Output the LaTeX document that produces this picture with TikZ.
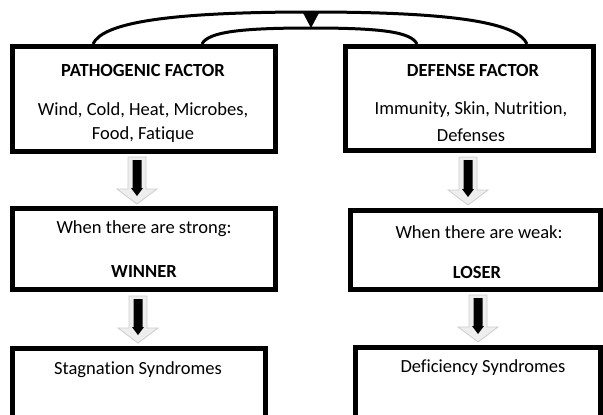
\documentclass[tikz,border=0pt]{standalone}
\usepackage{fontspec}
\setmainfont{Carlito}[Ligatures={NoCommon}]
\usetikzlibrary{calc}
\tikzset{
  box/.style={draw=black, line width=5pt, inner sep=0pt, rectangle},
  txt/.style={inner sep=0pt, font=\fontsize{18.5}{22}\selectfont},
  btxt/.style={inner sep=0pt, font=\fontsize{18.5}{22}\selectfont\bfseries},
  arcline/.style={line width=3pt},
  garr/.style={fill=gray!13, draw=gray!40, line width=0.8pt},
}
\newcommand\fatarrow[3]{%
  \filldraw[garr] (#1-9,#2) -- (#1+9,#2) -- (#1+9,#3-15) -- (#1+20,#3-15) -- (#1,#3) -- (#1-20,#3-15) -- (#1-9,#3-15) -- cycle;
  \fill[black] (#1-4.5,#2+3) -- (#1+4.5,#2+3) -- (#1+4.5,#3-16) -- (#1+6,#3-16) -- (#1,#3-8) -- (#1-6,#3-16) -- (#1-4.5,#3-16) -- cycle;
}
\begin{document}
\begin{tikzpicture}[x=1pt,y=-1pt]
\useasboundingbox (0,0) rectangle (603,415);
% boxes
\node[box, minimum width=263pt, minimum height=105pt] (pf) at (144,99) {};
\node[box, minimum width=248pt, minimum height=104pt] (df) at (469.5,98.5) {};
\node[box, minimum width=263pt, minimum height=81pt] (st) at (144,249) {};
\node[box, minimum width=250pt, minimum height=79pt] (wk) at (475.5,250) {};
\node[box, minimum width=253pt, minimum height=92pt] (ss) at (139,394.5) {};
\node[box, minimum width=245pt, minimum height=93pt] (ds) at (478,394) {};
% texts
\node[btxt] (pft) at (143,70) {PATHOGENIC FACTOR};
\node[txt] (pf1) at (143,110) {Wind, Cold, Heat, Microbes,};
\node[txt] (pf2) at (143,135) {Food, Fatique};
\node[btxt] (dft) at (473,70) {DEFENSE FACTOR};
\node[txt] (df1) at (471,110) {Immunity, Skin, Nutrition,};
\node[txt] (df2) at (471,135) {Defenses};
\node[txt] (stt) at (144,229) {When there are strong:};
\node[btxt] (stw) at (144,271) {WINNER};
\node[txt] (wkt) at (479,232) {When there are weak:};
\node[btxt] (wkl) at (477,272) {LOSER};
\node[txt] (sst) at (138,370) {Stagnation Syndromes};
\node[txt] (dst) at (483,368) {Deficiency Syndromes};
% arcs
\coordinate (o1) at (93,44);
\coordinate (o2) at (527,44);
\coordinate (i1) at (202,44);
\coordinate (i2) at (417,44);
\coordinate (otop) at (311,12);
\coordinate (itop) at (311,28);
\draw[arcline] (o1) .. controls (102,24) and (160,12) .. (otop) .. controls (462,12) and (518,24) .. (o2);
\draw[arcline] (i1) .. controls (208,32) and (240,28) .. (itop) .. controls (382,28) and (411,32) .. (i2);
\fill[black] (302,11) -- (320,11) -- (311,28) -- cycle;
% arrows
\fatarrow{137}{157}{204}
\fatarrow{468}{157}{205}
\fatarrow{138}{296}{343}
\fatarrow{478}{295}{342}
\end{tikzpicture}
\end{document}
